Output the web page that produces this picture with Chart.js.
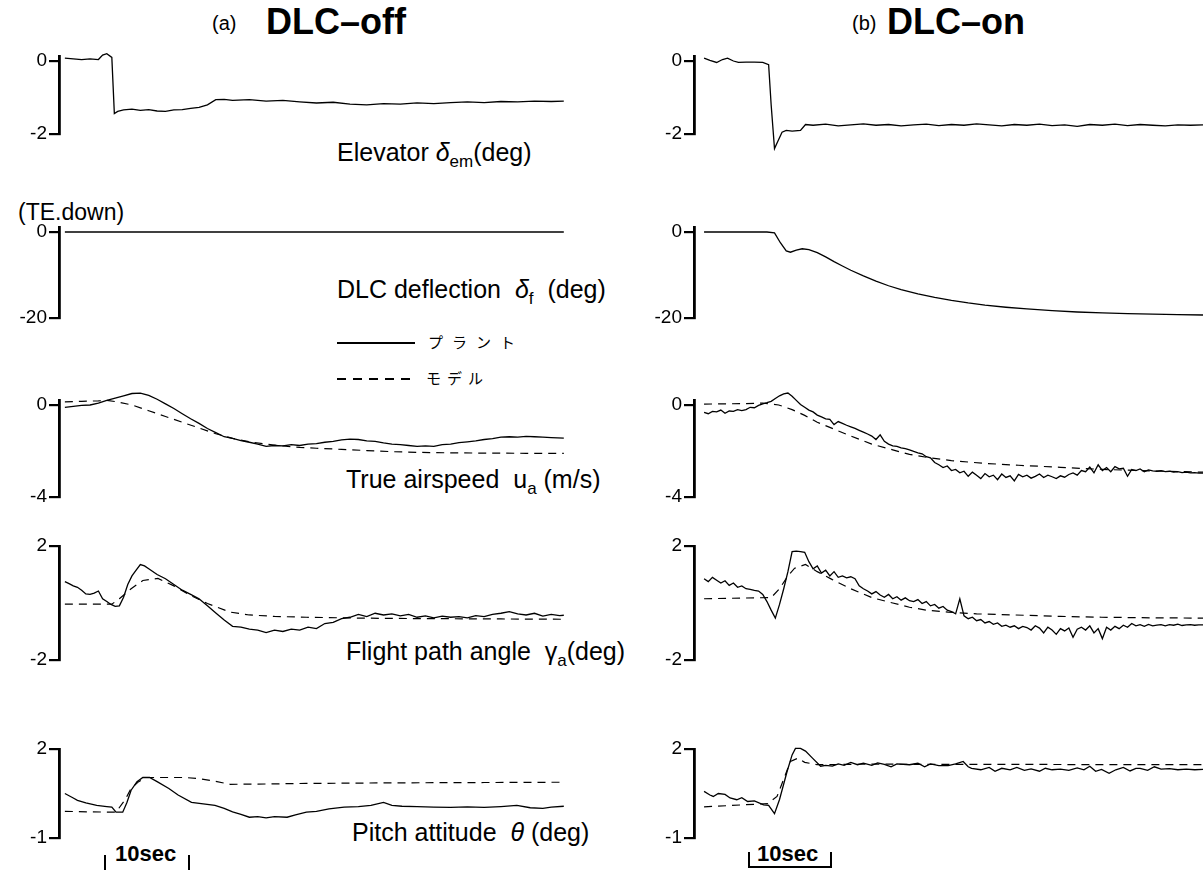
<!DOCTYPE html>
<html>
<head>
<meta charset="utf-8">
<script src="https://cdn.jsdelivr.net/npm/chart.js@4.4.1/dist/chart.umd.min.js"></script>
<style>
    body { margin: 0; background: #fff; }
    #page { position: relative; width: 1204px; height: 870px; overflow: hidden; background: #fff; color: #000;
            font-family: "Liberation Sans", Arial, Helvetica, sans-serif; }
    canvas { position: absolute; }
    .txt { position: absolute; white-space: nowrap; line-height: 1; }
    .lab { font-size: 25px; }
    .lab sub { font-size: 17px; vertical-align: -6px; }
    .jp { font-family: "Noto Sans CJK JP", sans-serif; font-size: 15px; }
    .swatch { position: absolute; width: 78px; height: 1.5px; }
</style>
</head>
<body>
<div id="page">
    <div class="txt" style="left:212px; top:13px; font-size:20px;">(a)</div>
    <div class="txt" style="left:266px; top:4px; font-size:36px; font-weight:bold;">DLC–off</div>
    <div class="txt" style="left:852px; top:13px; font-size:20px;">(b)</div>
    <div class="txt" style="left:887px; top:4px; font-size:36px; font-weight:bold;">DLC–on</div>

    <div class="txt lab" style="left:337px; top:140px;">Elevator <i>δ</i><sub>em</sub>(deg)</div>
    <div class="txt" style="left:18px; top:201px; font-size:23px;">(TE.down)</div>
    <div class="txt lab" style="left:337px; top:277px;">DLC deflection &nbsp;<i>δ</i><sub>f</sub> &nbsp;(deg)</div>

    <div class="swatch" style="left:337px; top:342px; background:#000;"></div>
    <div class="txt jp" style="left:428px; top:334px; letter-spacing:9px;">プラント</div>
    <div class="swatch" style="left:337px; top:378px; background:repeating-linear-gradient(to right, #000 0 9px, transparent 9px 16px);"></div>
    <div class="txt jp" style="left:426px; top:370px; letter-spacing:6px;">モデル</div>

    <div class="txt lab" style="left:346px; top:467px;">True airspeed &nbsp;u<sub>a</sub> (m/s)</div>
    <div class="txt lab" style="left:346px; top:639px;">Flight path angle &nbsp;γ<sub>a</sub>(deg)</div>
    <div class="txt lab" style="left:352px; top:820px;">Pitch attitude &nbsp;<i>θ</i> (deg)</div>

    <div class="txt" style="left:104px; top:855px; width:0; height:16px; border-left:2px solid #000;"></div>
    <div class="txt" style="left:115px; top:843px; font-size:22px; font-weight:bold;">10sec</div>
    <div class="txt" style="left:188px; top:855px; width:0; height:16px; border-left:2px solid #000;"></div>

    <div class="txt" style="left:748px; top:852px; width:80px; height:14px; border-left:2px solid #000; border-right:2px solid #000; border-bottom:2px solid #000;"></div>
    <div class="txt" style="left:757px; top:843px; font-size:22px; font-weight:bold;">10sec</div>
</div>

<script>
(function () {
    "use strict";

    // ---- (a) DLC-off ----
    // Elevator
    const offElevT = [0, 1, 2, 3, 4, 4.5, 5, 5.6, 5.9, 6.3, 7, 8, 9, 10, 11, 12, 13, 14, 15, 16, 17, 18, 19, 20, 22, 24, 26, 28, 30, 32, 34, 36, 38, 40, 42, 44, 46, 48, 50, 52, 54, 56, 58, 59.5];
    const offElev = [0.08, 0.06, 0.04, 0.06, 0.04, 0.16, 0.2, 0.1, -1.44, -1.38, -1.34, -1.32, -1.35, -1.33, -1.37, -1.38, -1.34, -1.33, -1.3, -1.27, -1.2, -1.06, -1.05, -1.08, -1.06, -1.1, -1.08, -1.12, -1.15, -1.13, -1.18, -1.2, -1.17, -1.18, -1.15, -1.17, -1.14, -1.12, -1.14, -1.11, -1.12, -1.1, -1.11, -1.1];

    // DLC deflection
    const offDlcT = [0, 15, 30, 45, 59.5];
    const offDlc = [0, 0, 0, 0, 0];

    // True airspeed
    const offAirT = [0, 1, 2, 3, 4, 5, 6, 7, 8, 9, 10, 11, 12, 13, 14, 15, 16, 17, 18, 19, 20, 21, 22, 23, 24, 25, 26, 27, 28, 29, 30, 31, 32, 33, 34, 35, 36, 37, 38, 39, 40, 41, 42, 43, 44, 45, 46, 47, 48, 49, 50, 51, 52, 53, 54, 55, 56, 57, 58, 59.5];
    const offAirPlant = [-0.1, -0.06, -0.02, 0, 0.08, 0.2, 0.3, 0.4, 0.5, 0.52, 0.42, 0.25, 0.05, -0.15, -0.38, -0.6, -0.8, -1.02, -1.2, -1.38, -1.45, -1.55, -1.62, -1.7, -1.8, -1.76, -1.78, -1.72, -1.76, -1.7, -1.68, -1.62, -1.58, -1.52, -1.48, -1.5, -1.56, -1.58, -1.65, -1.7, -1.72, -1.76, -1.8, -1.78, -1.8, -1.72, -1.7, -1.64, -1.6, -1.56, -1.5, -1.46, -1.4, -1.38, -1.4, -1.36, -1.38, -1.4, -1.42, -1.44];
    const offAirModelT = [0, 2, 4, 5, 6, 8, 10, 12, 14, 16, 18, 20, 22, 24, 26, 28, 30, 33, 36, 39, 42, 46, 50, 55, 59.5];
    const offAirModel = [0.14, 0.16, 0.18, 0.2, 0.15, 0, -0.25, -0.5, -0.75, -1.0, -1.25, -1.45, -1.6, -1.7, -1.78, -1.84, -1.88, -1.93, -1.98, -2.03, -2.06, -2.08, -2.09, -2.1, -2.1];

    // Flight path angle
    const offPathT = [0, 0.5, 1, 1.5, 2, 2.5, 3, 3.5, 4, 4.5, 5, 5.5, 6, 6.5, 7, 7.5, 8, 8.5, 9, 9.5, 10, 11, 12, 13, 14, 15, 16, 17, 18, 19, 20, 21, 22, 23, 24, 25, 26, 27, 28, 29, 30, 31, 32, 33, 34, 35, 36, 37, 38, 39, 40, 41, 42, 43, 44, 45, 46, 47, 48, 49, 50, 51, 52, 53, 54, 55, 56, 57, 58, 59, 59.5];
    const offPathPlant = [0.75, 0.68, 0.6, 0.55, 0.45, 0.32, 0.3, 0.35, 0.42, 0.15, 0.05, -0.05, -0.12, -0.1, 0.2, 0.65, 0.95, 1.15, 1.35, 1.3, 1.2,
        1.0, 0.85, 0.65, 0.45, 0.3, 0.15, -0.1, -0.35, -0.6, -0.82,
        -0.85, -0.92, -0.95, -1.04, -0.95, -1.0, -0.92, -0.95, -0.85, -0.9,
        -0.72, -0.68, -0.55, -0.5, -0.4, -0.48, -0.36, -0.42, -0.38, -0.45,
        -0.4, -0.5, -0.45, -0.52, -0.46, -0.5, -0.48, -0.52, -0.44, -0.48,
        -0.4, -0.36, -0.3, -0.38, -0.42, -0.36, -0.46, -0.4, -0.44, -0.43];
    const offPathModelT = [0, 5.6, 6.5, 7.9, 9.3, 11.1, 13, 15.1, 17, 19.7, 22, 25, 28.8, 33, 38, 45, 52, 59.5];
    const offPathModel = [-0.04, -0.04, 0.15, 0.5, 0.79, 0.86, 0.6, 0.25, -0.02, -0.32, -0.42, -0.47, -0.5, -0.52, -0.54, -0.55, -0.56, -0.57];

    // Pitch attitude
    const offPitchT = [0, 1, 1.5, 2.5, 3.8, 5, 5.6, 6.1, 6.9, 7.4, 7.9, 8.6, 9.3, 10.1, 11, 12.4, 13.5, 15.1, 16.5, 17.9, 19, 20, 21, 22, 23, 24, 25, 26.5, 27.5, 28.8, 30, 31.5, 33.3, 35, 36.5, 38, 39, 40.2, 42, 44, 46, 48, 50, 52, 53.9, 55.5, 57, 58, 59.5];
    const offPitchPlant = [0.5, 0.35, 0.27, 0.18, 0.1, 0.06, 0.04, -0.13, -0.13, 0.2, 0.61, 0.9, 1.04, 1.04, 0.9, 0.67, 0.45, 0.2, 0.15, 0.1, 0, -0.12, -0.2, -0.3, -0.28, -0.32, -0.28, -0.3, -0.22, -0.13, -0.1, -0.02, 0.04, 0.06, 0.1, 0.2, 0.1, 0.07, 0.06, 0.04, 0.03, 0.05, 0.03, 0.06, 0.1, 0.02, 0, 0.04, 0.07];
    const offPitchModelT = [0, 3, 6.1, 7.2, 7.9, 8.8, 9.7, 12, 14.3, 16, 17.4, 19.7, 24, 28.8, 40, 50, 59.5];
    const offPitchModel = [-0.1, -0.12, -0.13, 0.3, 0.67, 0.9, 1.04, 1.04, 1.04, 1.0, 0.94, 0.81, 0.82, 0.84, 0.86, 0.87, 0.88];

    // ---- (b) DLC-on ----
    const onElevT = [0.5, 1.2, 2, 2.7, 3.3, 4, 4.6, 5.5, 6.5, 7.5, 8.2, 8.5, 8.9, 9.3, 9.8, 10.3, 11, 12, 12.6, 13.5, 15, 16.5, 18, 19.5, 21, 22.5, 24, 25.5, 27, 28.5, 30, 31.5, 33, 34.5, 36, 37.5, 39, 40.5, 42, 43.5, 45, 46.5, 48, 49.5, 51, 52.5, 54, 55.5, 57, 58.5, 60];
    const onElev = [0.08, 0.02, -0.04, 0.04, 0.08, 0, -0.04, -0.03, -0.03, -0.04, -0.1, -1.2, -2.4, -2.2, -1.95, -1.9, -1.92, -1.9, -1.74, -1.76, -1.73, -1.78, -1.75, -1.72, -1.76, -1.74, -1.78, -1.75, -1.73, -1.77, -1.74, -1.76, -1.72, -1.75, -1.78, -1.74, -1.76, -1.73, -1.77, -1.75, -1.79, -1.74, -1.76, -1.73, -1.77, -1.74, -1.76, -1.78, -1.75, -1.76, -1.75];

    const onDlcT = [0.5, 4, 8, 8.9, 9.6, 10.3, 10.8, 11.5, 12.2, 13, 14, 15, 16, 17, 18, 19.5, 21, 22.5, 24, 26, 28, 30, 32, 34, 36.5, 39, 42, 45, 48, 51, 54, 57, 60];
    const onDlc = [0, 0, 0, -0.2, -2.5, -4.4, -4.7, -4.2, -3.9, -4.1, -4.8, -5.8, -6.9, -7.9, -8.9, -10.2, -11.4, -12.5, -13.4, -14.4, -15.2, -15.9, -16.5, -17, -17.5, -17.9, -18.3, -18.6, -18.8, -19, -19.1, -19.2, -19.3];

    // sample times shared by the noisy DLC-on records
    const onT = [0.5, 1, 1.5, 2, 2.5, 3, 3.5, 4, 4.5, 5,
        5.5, 6, 6.5, 7, 7.5, 8, 8.5, 9, 9.5, 10,
        10.5, 11, 11.5, 12, 12.5, 13, 13.5, 14, 14.5, 15,
        15.5, 16, 16.5, 17, 17.5, 18, 18.5, 19, 19.5, 20,
        20.5, 21, 21.5, 22, 22.5, 23, 23.5, 24, 24.5, 25,
        25.5, 26, 26.5, 27, 27.5, 28, 28.5, 29, 29.5, 30,
        30.5, 31, 31.5, 32, 32.5, 33, 33.5, 34, 34.5, 35,
        35.5, 36, 36.5, 37, 37.5, 38, 38.5, 39, 39.5, 40,
        40.5, 41, 41.5, 42, 42.5, 43, 43.5, 44, 44.5, 45,
        45.5, 46, 46.5, 47, 47.5, 48, 48.5, 49, 49.5, 50,
        50.5, 51, 51.5, 52, 52.5, 53, 53.5, 54, 54.5, 55,
        55.5, 56, 56.5, 57, 57.5, 58, 58.5, 59, 59.5, 60];
    const onAirPlant = [-0.32, -0.38, -0.28, -0.3, -0.22, -0.36, -0.26, -0.28, -0.2, -0.24,
        -0.2, -0.1, -0.12, -0.02, 0.05, 0.1, 0.16, 0.28, 0.4, 0.48,
        0.52, 0.38, 0.2, 0.02, -0.1, -0.22, -0.3, -0.44, -0.52, -0.6,
        -0.62, -0.85, -0.72, -0.8, -0.88, -0.95, -1.02, -1.1, -1.18, -1.26,
        -1.35, -1.5, -1.3, -1.58, -1.7, -1.78, -1.8, -1.86, -1.9, -1.95,
        -2.02, -2.08, -2.12, -2.25, -2.3, -2.5, -2.6, -2.72, -2.65, -2.85,
        -2.8, -2.95, -2.88, -3.1, -2.92, -3.05, -3.2, -2.98, -3.12, -3.05,
        -3.25, -3.0, -3.15, -3.08, -3.3, -3.02, -3.12, -3.05, -3.18, -3.1,
        -3.0, -3.15, -3.05, -3.12, -3.2, -3.08, -3.14, -3.02, -2.95, -3.05,
        -2.85, -2.9, -2.7, -2.95, -2.6, -2.85, -2.72, -2.9, -2.68, -2.78,
        -2.75, -3.1, -2.8, -2.85, -2.78, -2.9, -2.82, -2.86, -2.88, -2.85,
        -2.9, -2.88, -2.92, -2.9, -2.94, -2.92, -2.95, -2.94, -2.96, -2.96];
    const onAirModelT = [0.5, 5, 7.5, 9.4, 11, 12.5, 14, 16, 18, 20.5, 23, 25, 27.3, 30, 34, 38, 43, 48, 54, 60];
    const onAirModel = [0.04, 0.06, 0.08, 0, -0.2, -0.45, -0.75, -1.05, -1.35, -1.7, -1.95, -2.15, -2.29, -2.42, -2.54, -2.62, -2.71, -2.8, -2.87, -2.92];

    const onPathPlant = [0.85, 0.75, 0.9, 0.8, 0.7, 0.78, 0.62, 0.7, 0.55, 0.6,
        0.5, 0.48, 0.44, 0.42, 0.3, 0.05, -0.25, -0.53, -0.05, 0.5,
        1.1, 1.8, 1.82, 1.8, 1.78, 1.45, 1.2, 1.3, 1.05, 1.15,
        0.95, 1.1, 0.9, 0.95, 0.88, 0.92, 0.85, 0.6, 0.5, 0.42,
        0.32, 0.4, 0.28, 0.2, 0.3, 0.15, 0.22, 0.1, 0.18, 0.08,
        0.05, 0.12, -0.02, 0.05, -0.1, -0.05, -0.18, -0.12, -0.25, -0.3,
        -0.38, 0.15, -0.45, -0.55, -0.5, -0.62, -0.58, -0.7, -0.65, -0.75,
        -0.7, -0.82, -0.78, -0.85, -0.8, -0.9, -0.82, -0.86, -0.95, -0.8,
        -0.88, -1.05, -0.85, -0.95, -1.1, -0.9, -0.98, -0.88, -1.2, -0.92,
        -0.85, -0.95, -0.8, -1.05, -0.9, -1.25, -0.85, -0.95, -0.82, -0.9,
        -0.78, -0.85, -0.72, -0.8, -0.76, -0.82, -0.75, -0.8, -0.78, -0.76,
        -0.8, -0.76, -0.78, -0.74, -0.79, -0.77, -0.76, -0.78, -0.77, -0.77];
    const onPathModelT = [0.5, 8.5, 9.5, 10.5, 11.3, 12.6, 14, 15.8, 18, 20.5, 23, 25, 27, 29.6, 33, 38.7, 43, 47.9, 54, 60];
    const onPathModel = [0.15, 0.19, 0.5, 0.95, 1.22, 1.35, 1.1, 0.82, 0.5, 0.19, 0, -0.15, -0.25, -0.32, -0.38, -0.43, -0.47, -0.5, -0.52, -0.53];

    const onPitchT = [0.5, 1.2, 1.6, 2.2, 3, 3.6, 4.4, 5, 5.7, 6.5, 7.6, 8.2, 8.9, 9.5, 10.4, 11, 11.4, 12, 12.6, 13.4, 14.4, 15, 15.8, 16.5, 17.2, 18, 18.8, 19.5, 20.5, 21.2, 22, 22.8, 23.5, 25, 26, 26.8, 27.5, 28.5, 29.6, 30.5, 31.4, 32, 32.4, 33.5, 34.5, 35.2, 36, 37, 37.8, 38.7, 39.5, 40.5, 41.2, 42, 43, 44, 45, 45.8, 46.5, 47.2, 47.9, 48.8, 49.6, 50.5, 51.3, 52, 52.5, 53.4, 54.2, 55, 56, 57, 58, 59, 60];
    const onPitchPlant = [0.57, 0.45, 0.4, 0.5, 0.47, 0.35, 0.29, 0.36, 0.23, 0.25, 0.12, 0.1, -0.18, 0.3, 1.24, 1.8, 2.02, 2.02, 1.93, 1.7, 1.42, 1.45, 1.42, 1.5, 1.45, 1.55, 1.47, 1.52, 1.45, 1.53, 1.48, 1.4, 1.5, 1.47, 1.52, 1.4, 1.5, 1.44, 1.44, 1.5, 1.58, 1.4, 1.35, 1.3, 1.38, 1.25, 1.35, 1.3, 1.38, 1.28, 1.33, 1.25, 1.35, 1.3, 1.32, 1.28, 1.36, 1.3, 1.42, 1.25, 1.31, 1.18, 1.3, 1.38, 1.26, 1.35, 1.35, 1.28, 1.4, 1.32, 1.34, 1.3, 1.32, 1.3, 1.31];
    const onPitchModelT = [0.5, 8.1, 9.2, 9.9, 10.8, 11.7, 12.5, 14, 20, 30, 40, 50, 60];
    const onPitchModel = [0.05, 0.16, 0.4, 0.91, 1.58, 1.69, 1.55, 1.47, 1.49, 1.48, 1.48, 1.47, 1.47];

    // tick values of the five strips
    const yTicks = [[-2, 0], [-20, 0], [-4, 0], [-2, 2], [-1, 2]];

    // Layout (page pixels)
    const rowTop = [61, 232, 405, 546, 749];
    const rowBot = [134, 318, 497, 660, 838];
    const rowExt = [5, 5, 5, 0, 0];       // axis line reaching above the top tick
    const colLeft = [0, 635];
    const axisW = 59, plotW = 509, padX = 4, padY = 30;

    const pts = (ts, vs) => ts.map((t, i) => ({ x: t, y: vs[i] }));

    const solid = (ts, vs) => ({ data: pts(ts, vs), borderColor: '#000', borderWidth: 1.3, pointRadius: 0, tension: 0, clip: false });
    const dashed = (ts, vs) => ({ data: pts(ts, vs), borderColor: '#000', borderWidth: 1.2, borderDash: [8, 6], pointRadius: 0, tension: 0, clip: false });

    const panels = [
        [[solid(offElevT, offElev)], [solid(onElevT, onElev)]],
        [[solid(offDlcT, offDlc)], [solid(onDlcT, onDlc)]],
        [[dashed(offAirModelT, offAirModel), solid(offAirT, offAirPlant)], [dashed(onAirModelT, onAirModel), solid(onT, onAirPlant)]],
        [[dashed(offPathModelT, offPathModel), solid(offPathT, offPathPlant)], [dashed(onPathModelT, onPathModel), solid(onT, onPathPlant)]],
        [[dashed(offPitchModelT, offPitchModel), solid(offPitchT, offPitchPlant)], [dashed(onPitchModelT, onPitchModel), solid(onPitchT, onPitchPlant)]]
    ];

    const page = document.getElementById('page');

    panels.forEach((row, r) => {
        row.forEach((datasets, c) => {
            const [lo, hi] = yTicks[r];
            const span = rowBot[r] - rowTop[r];
            const top = rowTop[r] - rowExt[r];
            const cv = document.createElement('canvas');
            cv.width = axisW + plotW + padX;
            cv.height = rowBot[r] - top + 2 * padY;
            cv.style.left = colLeft[c] + 'px';
            cv.style.top = (top - padY) + 'px';
            page.appendChild(cv);

            new Chart(cv.getContext('2d'), {
                type: 'line',
                data: { datasets: datasets },
                options: {
                    responsive: false,
                    animation: false,
                    layout: { padding: { top: padY, bottom: padY, left: 0, right: padX } },
                    scales: {
                        x: { type: 'linear', min: -0.7, max: 60, display: false },
                        y: {
                            type: 'linear',
                            min: lo,
                            max: hi + rowExt[r] * (hi - lo) / span,
                            afterBuildTicks: s => { s.ticks = [{ value: lo }, { value: hi }]; },
                            afterFit: s => { s.width = axisW; },
                            border: { display: true, color: '#000', width: 2.8 },
                            grid: { display: true, drawOnChartArea: false, drawTicks: true, tickLength: 10, lineWidth: 2.2, color: '#000' },
                            ticks: {
                                color: '#000',
                                padding: 2,
                                font: { family: '"Liberation Sans Narrow", "Liberation Sans", Arial, sans-serif', size: 19 },
                                callback: v => String(v)
                            }
                        }
                    },
                    plugins: { legend: { display: false }, tooltip: { enabled: false } }
                }
            });
        });
    });
})();
</script>
</body>
</html>
